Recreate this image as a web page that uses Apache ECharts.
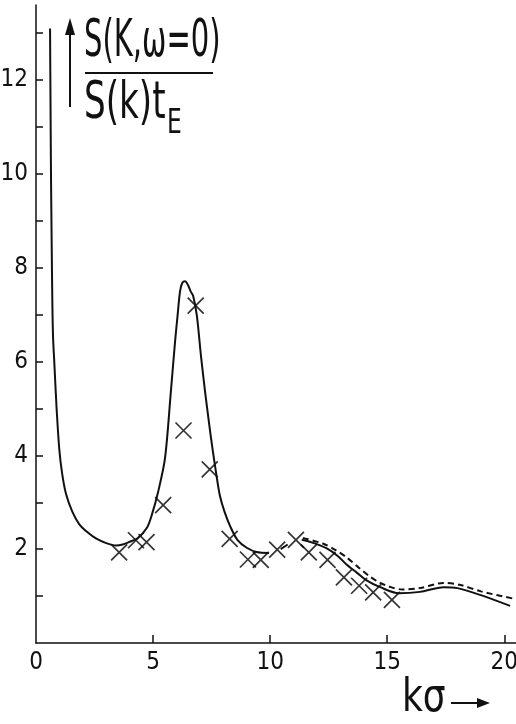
<!DOCTYPE html>
<html>
<head>
<meta charset="utf-8">
<title>S(K,ω=0)</title>
<script src="https://cdn.jsdelivr.net/npm/echarts@6/dist/echarts.min.js"></script>
<style>
  html, body { margin: 0; padding: 0; background: #fff; }
  #chart { width: 516px; height: 724px; }
</style>
</head>
<body>
<div id="chart"></div>
<script>
// values: [kσ, S(K,ω=0)/S(k)tE]
var solidMain = [
  [0.60, 13.1], [0.62, 11.5], [0.64, 10], [0.67, 8.5], [0.70, 7.2], [0.73, 6.5], [0.78, 6.0],
  [0.88, 5.0], [1.0, 4.1], [1.12, 3.6], [1.28, 3.18], [1.55, 2.8], [1.85, 2.53], [2.2, 2.36],
  [2.56, 2.23], [3.0, 2.13], [3.42, 2.08], [3.7, 2.1], [3.97, 2.15], [4.35, 2.24], [4.73, 2.45],
  [4.94, 2.72], [5.22, 3.23], [5.51, 3.94], [5.76, 5.36], [5.94, 6.43], [6.05, 7.0], [6.15, 7.49],
  [6.25, 7.68], [6.37, 7.71], [6.5, 7.62], [6.6, 7.5], [6.71, 7.4], [6.87, 6.98], [7.05, 6.1],
  [7.22, 5.36], [7.4, 4.65], [7.55, 4.1], [7.7, 3.6], [7.85, 3.15], [8.05, 2.8], [8.3, 2.48],
  [8.6, 2.2], [9.0, 2.03], [9.42, 1.94], [9.95, 1.92]
];
var solidBit = [[10.45, 2.0], [10.75, 2.1]];
var solidTail = [
  [11.35, 2.2], [11.8, 2.14], [12.4, 2.02], [12.9, 1.85], [13.25, 1.68], [13.7, 1.5],
  [14.1, 1.34], [14.7, 1.19], [15.5, 1.06], [16.4, 1.09], [17.4, 1.19], [18.0, 1.17],
  [19.0, 1.02], [20.25, 0.79]
];
var dashedTail = [
  [11.4, 2.24], [12.25, 2.12], [12.8, 1.98], [13.25, 1.83], [13.8, 1.6], [14.25, 1.42],
  [14.7, 1.28], [15.1, 1.2], [15.65, 1.14], [16.4, 1.17], [17.4, 1.28], [18.1, 1.24],
  [19.0, 1.1], [20.45, 0.94]
];
var crosses = [
  [3.55, 1.93], [4.27, 2.19], [4.72, 2.15], [5.43, 2.94], [6.3, 4.53], [6.82, 7.19],
  [7.42, 3.7], [8.27, 2.22], [9.05, 1.78], [9.6, 1.77], [10.3, 1.99], [11.1, 2.2],
  [11.65, 1.93], [12.45, 1.77], [13.15, 1.4], [13.8, 1.22], [14.4, 1.08], [15.2, 0.92]
];
var xLabels = [0, 5, 10, 15, 20];
var xTicks = [5, 10, 15, 20];
var yLabels = [2, 4, 6, 8, 10, 12];
var yTicks = [1, 2, 3, 4, 5, 6, 7, 8, 9, 10, 11, 12, 13];

var font = '"Liberation Sans Narrow", "DejaVu Sans Condensed", "Liberation Sans", sans-serif';

var chart = echarts.init(document.getElementById('chart'));

function lineSeries(data, dashed) {
  return {
    type: 'line',
    data: data,
    smooth: 0.3,
    showSymbol: false,
    silent: true,
    lineStyle: {color: '#111', width: 2, type: dashed ? [6, 4] : 'solid'}
  };
}

var option = {
  backgroundColor: '#fff',
  animation: false,
  grid: {left: 36, right: 0, top: 5, bottom: 81, outerBoundsMode: 'none'},
  xAxis: {
    type: 'value',
    min: 0,
    max: 20.5,
    splitLine: {show: false},
    axisLine: {lineStyle: {color: '#111', width: 1.5}},
    axisTick: {inside: true, length: 8, customValues: xTicks, lineStyle: {color: '#111', width: 1.5}},
    axisLabel: {customValues: xLabels, margin: 8, color: '#111', fontSize: 24, fontFamily: font}
  },
  yAxis: {
    type: 'value',
    min: 0,
    max: 13.6,
    splitLine: {show: false},
    axisLine: {lineStyle: {color: '#111', width: 1.5}},
    axisTick: {inside: true, length: 7, customValues: yTicks, lineStyle: {color: '#111', width: 1.5}},
    axisLabel: {customValues: yLabels, margin: 8, color: '#111', fontSize: 24, fontFamily: font}
  },
  series: [
    lineSeries(solidMain, false),
    lineSeries(solidBit, false),
    lineSeries(solidTail, false),
    lineSeries(dashedTail, true),
    {
      type: 'scatter',
      data: crosses,
      symbol: 'path://M0,0L10,10M10,0L0,10',
      symbolSize: 16,
      itemStyle: {color: 'rgba(0,0,0,0)', borderColor: '#000', borderWidth: 1.7}
    }
  ],
  graphic: [
    // y title: arrow + fraction
    {type: 'line', shape: {x1: 70, y1: 107, x2: 70, y2: 30}, style: {stroke: '#111', lineWidth: 2}},
    {type: 'polygon', shape: {points: [[70, 18], [65, 35], [75, 35]]}, style: {fill: '#111'}},
    {type: 'text', x: 84, y: 68, scaleX: 0.85, scaleY: 1.35, style: {text: 'S(K,ω=0)', font: '38px ' + font, fill: '#111', textVerticalAlign: 'bottom'}},
    {type: 'line', shape: {x1: 85, y1: 73, x2: 213, y2: 73}, style: {stroke: '#111', lineWidth: 2}},
    {type: 'text', x: 84, y: 130, scaleY: 1.35, style: {text: 'S(k)t', font: '38px ' + font, fill: '#111', textVerticalAlign: 'bottom'}},
    {type: 'text', x: 167, y: 141, scaleY: 1.3, style: {text: 'E', font: '26px ' + font, fill: '#111', textVerticalAlign: 'bottom'}},
    // x title
    {type: 'text', x: 402, y: 722, scaleY: 1.15, style: {text: 'kσ', font: '40px ' + font, fill: '#111', textVerticalAlign: 'bottom'}},
    {type: 'line', shape: {x1: 451, y1: 703, x2: 480, y2: 703}, style: {stroke: '#111', lineWidth: 2}},
    {type: 'polygon', shape: {points: [[490, 703], [477, 698], [477, 708]]}, style: {fill: '#111'}}
  ]
};

chart.setOption(option);
window.addEventListener('resize', function () {
  chart.resize();
});
</script>
</body>
</html>
